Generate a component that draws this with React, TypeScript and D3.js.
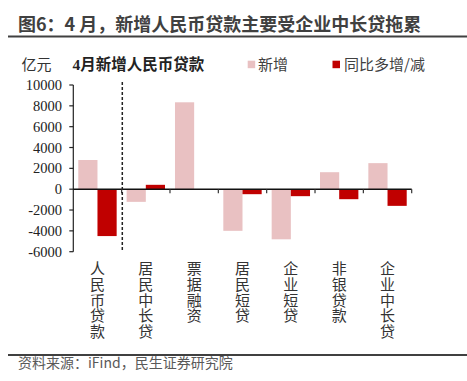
import React from "react";
import * as d3 from "d3";

const categories = ["人民币贷款", "居民中长贷", "票据融资", "居民短贷", "企业短贷", "非银贷款", "企业中长贷"];
const newLoans = [2800, -1216, 8340, -3997, -4810, 1630, 2500];
const yoyChange = [-4500, 420, 0, -480, -670, -960, -1600];
const seriesNames = ["新增", "同比多增/减"];
const yTicks = [10000, 8000, 6000, 4000, 2000, 0, -2000, -4000, -6000];

const W = 467;
const H = 381;
const PINK = "#E9C1C2";
const RED = "#C00000";
const CJK = "'Noto Sans CJK SC', 'Noto Sans', sans-serif";
const SERIF = "'Liberation Serif', 'DejaVu Serif', 'Noto Sans CJK SC', serif";

export default function App() {
  const x = d3.scaleBand<string>().domain(categories).range([73.3, 411.7]).paddingInner(0).paddingOuter(0);
  const xs = d3.scaleBand<string>().domain(seriesNames).range([0, x.bandwidth()]).paddingInner(0).paddingOuter(0.26);
  const y = d3.scaleLinear().domain([-6000, 10000]).range([251.7, 85]);
  const y0 = y(0);
  const series = [newLoans, yoyChange];
  const colors = [PINK, RED];
  const boundaries = categories.map((c) => (x(c) as number) + x.bandwidth());

  return (
    <svg width={W} height={H} style={{ position: "absolute", left: 0, top: 0, background: "#fff" }}>
      {/* Title */}
      <text x={18} y={31} fontFamily={CJK} fontWeight="bold" fontSize={18} fill="#404040">
        图6：4 月，新增人民币贷款主要受企业中长贷拖累
      </text>
      <line x1={8} x2={467} y1={36.5} y2={36.5} stroke="#404040" strokeWidth={2} />

      {/* Unit and subtitle */}
      <text x={21.5} y={69.5} fontFamily={SERIF} fontSize={15} fill="#333">亿元</text>
      <text x={72.5} y={69.5} fontFamily={SERIF} fontWeight="bold" fontSize={15.5} fill="#222">4月新增人民币贷款</text>

      {/* Legend */}
      <rect x={247.7} y={60.7} width={7.5} height={7.5} fill={PINK} />
      <text x={258} y={69.5} fontFamily={CJK} fontSize={15} fill="#404040">{seriesNames[0]}</text>
      <rect x={332.5} y={60.7} width={7.5} height={7.5} fill={RED} />
      <text x={344} y={69.5} fontFamily={CJK} fontSize={15} fill="#404040">{seriesNames[1]}</text>

      {/* Bars */}
      {series.map((vals, si) =>
        vals.map((v, i) => {
          if (v === 0) return null;
          const bx = (x(categories[i]) as number) + (xs(seriesNames[si]) as number);
          const top = Math.min(y(v), y0);
          const h = Math.abs(y(v) - y0);
          return <rect key={`${si}-${i}`} x={bx} y={top} width={xs.bandwidth()} height={h} fill={colors[si]} />;
        })
      )}

      {/* Y axis */}
      <line x1={73.3} x2={73.3} y1={y(10000)} y2={y(-6000)} stroke="#222" strokeWidth={1.2} />
      {yTicks.map((t) => (
        <g key={t}>
          <line x1={69.3} x2={73.3} y1={y(t)} y2={y(t)} stroke="#222" strokeWidth={1.2} />
          <text x={62} y={y(t)} dy="0.35em" textAnchor="end" fontFamily={SERIF} fontSize={14.5} fill="#222">
            {t}
          </text>
        </g>
      ))}

      {/* Zero line and x ticks */}
      <line x1={73.3} x2={411.7} y1={y0} y2={y0} stroke="#111" strokeWidth={1.5} />
      {boundaries.map((bx, i) => (
        <line key={i} x1={bx} x2={bx} y1={y0} y2={y0 + 4} stroke="#333" strokeWidth={1.2} />
      ))}

      {/* Dashed separator */}
      <line x1={122.3} x2={122.3} y1={82} y2={250} stroke="#222" strokeWidth={1.5} strokeDasharray="3,2" />

      {/* Category labels (vertical) */}
      {categories.map((c) => {
        const cx = (x(c) as number) + x.bandwidth() / 2;
        return (
          <text
            key={c}
            x={cx}
            y={260.8}
            fontFamily={CJK}
            fontSize={15}
            fill="#333"
            style={{ writingMode: "vertical-rl", letterSpacing: "0.8px" }}
          >
            {c}
          </text>
        );
      })}

      {/* Bottom rule and source */}
      <line x1={8} x2={467} y1={355} y2={355} stroke="#404040" strokeWidth={2} />
      <text x={18} y={367.5} fontFamily={CJK} fontSize={14} fill="#595959">资料来源：iFind，民生证券研究院</text>
    </svg>
  );
}
